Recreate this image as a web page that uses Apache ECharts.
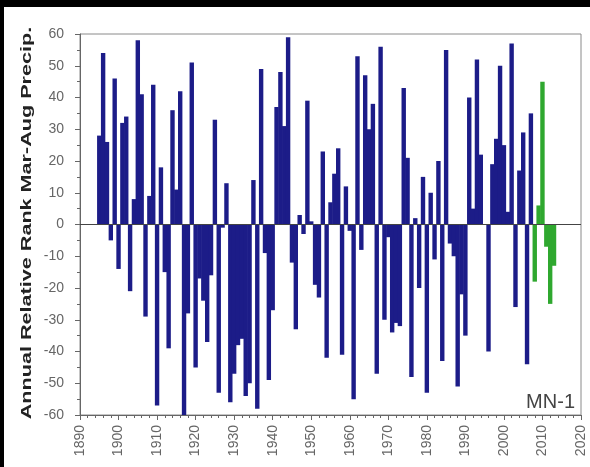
<!DOCTYPE html>
<html>
<head>
<meta charset="utf-8">
<script src="https://cdn.jsdelivr.net/npm/echarts@6/dist/echarts.min.js"></script>
<style>
  html, body { margin: 0; padding: 0; background: #000; }
  #chart { position: absolute; left: 4px; top: 7px; width: 586px; height: 460px; background: #fff; }
</style>
</head>
<body>
<div id="chart"></div>
<script>
// years 1895..2007 (blue) and 2008..2013 (green)
const firstYear = 1895
const blueValues = [
  28, 54, 26, -5, 46,
  -14, 32, 34, -21, 8, 58, 41, -29, 9, 44,
  -57, 18, -15, -39, 36, 11, 42, -60, -28, 51,
  -45, -17, -24, -37, -16, 33, -53, -1, 13, -56,
  -47, -38, -36, -54, -50, 14, -58, 49, -9, -49,
  -27, 37, 48, 31, 59, -12, -33, 3, -3, 39,
  1, -19, -23, 23, -42, 7, 16, 24, -41, 12,
  -2, -55, 53, -8, 47, 30, 38, -47, 56, -30,
  -4, -34, -31, -32, 43, 21, -48, 2, -20, 15,
  -53, 10, -11, 20, -43, 55, -6, -10, -51, -22,
  -35, 40, 5, 52, 22, 0, -40, 19, 27, 50,
  25, 4, 57, -26, 17, 29, -44, 35
]
const greenFirstYear = 2008
const greenValues = [-18, 6, 45, -7, -25, -13]

const yTicks = { min: -60, max: 60, step: 10 }
const xTicks = { min: 1890, max: 2020, step: 10 }

const blueData = blueValues.map((v, i) => [firstYear + i, v])
const greenData = greenValues.map((v, i) => [greenFirstYear + i, v])

const myChart = echarts.init(document.getElementById('chart'))

const option = {
  animation: false,
  backgroundColor: '#fff',
  grid: {
    left: 76,
    right: 9,
    top: 27,
    bottom: 52,
    show: true,
    borderColor: '#8a8a8a',
    borderWidth: 1
  },
  xAxis: {
    type: 'value',
    min: xTicks.min,
    max: xTicks.max,
    interval: xTicks.step,
    axisLine: { onZero: false, lineStyle: { color: '#666' } },
    axisTick: { show: true, length: 5, lineStyle: { color: '#666' } },
    minorTick: { show: true, splitNumber: 5, length: 3, lineStyle: { color: '#666' } },
    splitLine: { show: false },
    axisLabel: {
      rotate: 90,
      margin: 10,
      color: '#666',
      fontSize: 14,
      fontFamily: 'Liberation Sans',
      formatter: v => String(v)
    }
  },
  yAxis: {
    type: 'value',
    min: yTicks.min,
    max: yTicks.max,
    interval: yTicks.step,
    axisLine: { show: true, lineStyle: { color: '#666' } },
    axisTick: { show: true, length: 5, lineStyle: { color: '#666' } },
    minorTick: { show: true, splitNumber: 2, length: 3, lineStyle: { color: '#666' } },
    splitLine: { show: false },
    axisLabel: {
      margin: 16,
      color: '#666',
      fontSize: 14,
      fontFamily: 'Liberation Sans'
    }
  },
  graphic: [
    {
      type: 'text',
      x: 23,
      y: 216,
      rotation: Math.PI / 2,
      scaleX: 1.44,
      style: {
        text: 'Annual Relative Rank Mar-Aug Precip.',
        font: 'bold 15px "Liberation Sans"',
        fill: '#222',
        align: 'center',
        verticalAlign: 'middle'
      }
    },
    {
      type: 'text',
      x: 571,
      y: 405,
      style: {
        text: 'MN-1',
        font: '20px "Liberation Sans"',
        fill: '#444',
        align: 'right',
        verticalAlign: 'bottom'
      }
    }
  ],
  series: [
    {
      name: 'blue',
      type: 'bar',
      stack: 'rank',
      barWidth: 4.4,
      data: blueData,
      itemStyle: {
        color: '#1c1c88'
      },
      markLine: {
        silent: true,
        symbol: 'none',
        label: { show: false },
        lineStyle: { color: '#444', width: 1, type: 'solid' },
        data: [{ yAxis: 0 }]
      }
    },
    {
      name: 'green',
      type: 'bar',
      stack: 'rank',
      barWidth: 4.4,
      data: greenData,
      itemStyle: {
        color: '#2fa82f'
      }
    }
  ]
}

myChart.setOption(option)

window.addEventListener('resize', () => {
  myChart.resize()
})
</script>
</body>
</html>
